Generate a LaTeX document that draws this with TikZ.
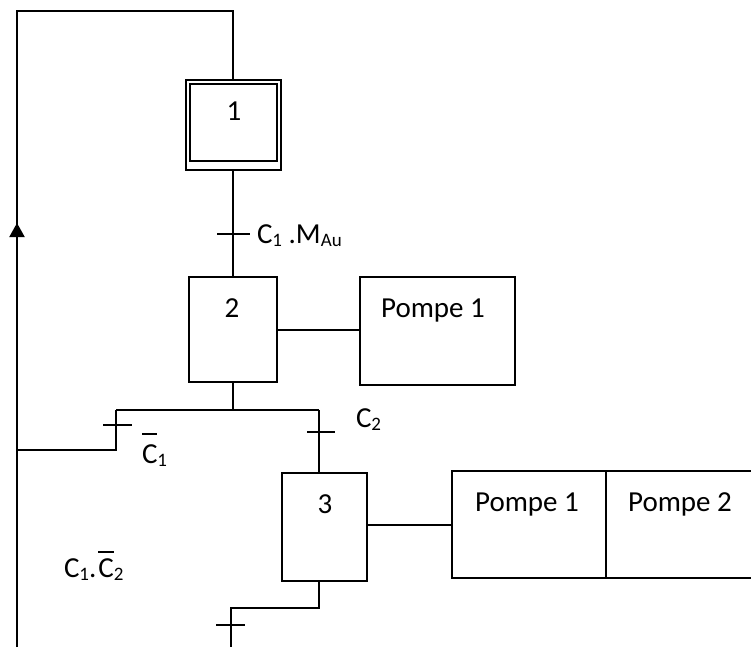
\documentclass[tikz,border=0pt]{standalone}
\usepackage{fontspec}
\setmainfont{Carlito}
\usetikzlibrary{arrows.meta}
\newcommand\sbs[1]{\raisebox{-3.5pt}{\fontsize{19}{19}\selectfont #1}}
\newcommand\obar[2][6pt]{\vbox{\hrule height 1.8pt \kern #1 \hbox{#2}}}
\begin{document}
\begin{tikzpicture}[x=1pt,y=-1pt,line width=2pt,
  every node/.style={font=\fontsize{29}{34}\selectfont, inner sep=0pt},
  lbl/.style={anchor=base west},
  txt/.style={anchor=base}]
\useasboundingbox (0,0) rectangle (751,647);
% step 1 (initial, double)
\node[draw, minimum width=95pt, minimum height=90pt] (s1) at (233,125) {};
\node[draw, minimum width=87pt, minimum height=77pt] (s1in) at (233,122.5) {};
\node[txt] (n1) at (234,121) {1};
% step 2
\node[draw, minimum width=88pt, minimum height=105pt] (s2) at (233,329.5) {};
\node[txt] (n2) at (232,317) {2};
% action of step 2
\node[draw, minimum width=155pt, minimum height=108pt] (a2) at (437,330.5) {};
\node[txt] (a2t) at (433,317) {Pompe 1};
% step 3
\node[draw, minimum width=85pt, minimum height=108pt] (s3) at (324.5,527) {};
\node[txt] (n3) at (325,513) {3};
% actions of step 3
\node[draw, minimum width=154pt, minimum height=107pt] (a3a) at (529,524.5) {};
\node[txt] (a3at) at (527,511) {Pompe 1};
\coordinate (a3bl) at (606,471);
\coordinate (a3bb) at (606,578);
\draw (a3bl) -- (751,471);
\draw (a3bb) -- (751,578);
\draw (a3bl) -- (a3bb);
\node[txt] (a3bt) at (680,511) {Pompe 2};
% links
\draw (s1.south) -- (s2.north);
\coordinate (t1) at (233,234);
\draw (t1) +(-16,0) -- +(17,0);
\node[lbl] (c1) at (256,243) {C\sbs{1} .M\sbs{Au}};
\draw (s2.east) -- (s2.east -| a2.west);
\draw (s3.east |- a3a.west) -- (a3a.west);
% divergence
\coordinate (bl) at (116,410);
\coordinate (br) at (319,410);
\coordinate (bm) at (233,410);
\draw (s2.south) -- (bm);
\draw (bl) -- (br);
\coordinate (lb) at (116,450);
\coordinate (lloop) at (17,450);
\draw (bl) -- (lb) -- (lloop);
\coordinate (t2) at (116,425);
\draw (t2) +(-13,0) -- +(16,0);
\node[lbl] (c1b) at (141,463) {\obar[9pt]{C}\sbs{1}};
\draw (br) -- (br |- s3.north);
\coordinate (t3) at (319,432);
\draw (t3) +(-12,0) -- +(16,0);
\node[lbl] (c2) at (355,427) {C\sbs{2}};
% after step 3
\coordinate (d3) at (319,608);
\coordinate (d3l) at (231,608);
\coordinate (d3b) at (231,647);
\draw (d3 |- s3.south) -- (d3) -- (d3l) -- (d3b);
\coordinate (t4) at (231,625);
\draw (t4) +(-15,0) -- +(14,0);
\node[lbl] (c12) at (63,577) {C\sbs{1}.\kern2pt\obar[5pt]{C}\sbs{2}};
% loop back
\coordinate (lbot) at (17,647);
\coordinate (ltop) at (17,11);
\coordinate (rtop) at (233,11);
\draw (lbot) -- (ltop) -- (rtop) -- (rtop |- s1.north);
\coordinate (arb) at (17,250);
\coordinate (art) at (17,223);
\draw[-{Triangle[length=14pt,width=15pt]}] (arb) -- (art);
\end{tikzpicture}
\end{document}
